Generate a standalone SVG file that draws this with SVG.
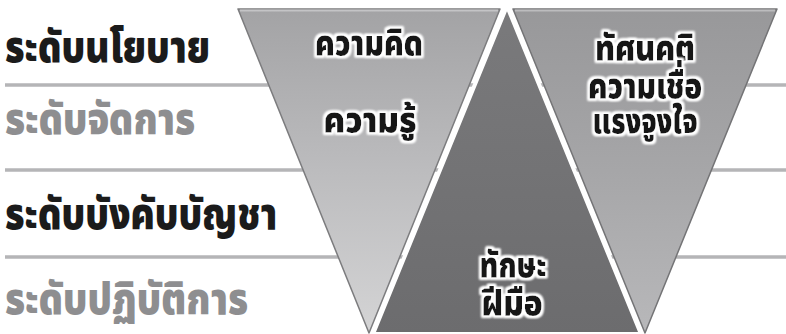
<svg xmlns="http://www.w3.org/2000/svg" width="786" height="334" viewBox="0 0 786 334">
<style>
.lbl{font-family:"Noto Sans Thai","Noto Sans","DejaVu Sans",sans-serif;font-weight:900;font-size:45px}
.dark{fill:#1b1b1b}
.gray{fill:#8e8e90}
.tt{font-family:"Noto Sans Thai","Noto Sans","DejaVu Sans",sans-serif;font-weight:900;font-size:36px;fill:#151515;text-anchor:middle}
.hl{stroke:#b5b5b7;stroke-width:3.5}
</style>
<defs>
<linearGradient id="gL" x1="0" y1="0" x2="0" y2="1">
<stop offset="0" stop-color="#a3a3a5"/><stop offset="0.5" stop-color="#bcbcbe"/><stop offset="1" stop-color="#d4d4d5"/>
</linearGradient>
<linearGradient id="gR" x1="0" y1="0" x2="0" y2="1">
<stop offset="0" stop-color="#98989a"/><stop offset="0.5" stop-color="#a6a6a8"/><stop offset="1" stop-color="#b8b8ba"/>
</linearGradient>
<linearGradient id="gM" x1="0" y1="0" x2="0" y2="1">
<stop offset="0" stop-color="#7a7a7c"/><stop offset="1" stop-color="#6c6c6e"/>
</linearGradient>
<filter id="glow" x="-20%" y="-50%" width="140%" height="200%">
<feMorphology in="SourceAlpha" operator="dilate" radius="1.5" result="d"/>
<feGaussianBlur in="d" stdDeviation="1.3" result="b"/>
<feFlood flood-color="#ffffff"/>
<feComposite in2="b" operator="in" result="g"/>
<feMerge><feMergeNode in="g"/><feMergeNode in="g"/><feMergeNode in="SourceGraphic"/></feMerge>
</filter>
</defs>
<rect width="786" height="334" fill="#ffffff"/>
<g id="connectors">
<line class="hl" x1="5" y1="85" x2="786" y2="85"/>
<line class="hl" x1="5" y1="170" x2="786" y2="170"/>
<line class="hl" x1="5" y1="257" x2="786" y2="257"/>
</g>
<g id="labels">
<text class="lbl dark" x="5" y="62" textLength="205" lengthAdjust="spacingAndGlyphs">ระดับนโยบาย</text>
<text class="lbl gray" x="5" y="134" textLength="190" lengthAdjust="spacingAndGlyphs">ระดับจัดการ</text>
<text class="lbl dark" x="5" y="229" textLength="272" lengthAdjust="spacingAndGlyphs">ระดับบังคับบัญชา</text>
<text class="lbl gray" x="5" y="314" textLength="243" lengthAdjust="spacingAndGlyphs">ระดับปฏิบัติการ</text>
</g>
<g id="knowledge">
<polygon points="238,9 500,9 369,333" fill="url(#gL)" stroke="#7c7c7e" stroke-width="1.5" stroke-linejoin="round"/>
<line x1="240" y1="10.5" x2="498" y2="10.5" stroke="#c4c4c6" stroke-width="2"/>
<text class="tt" x="369" y="55" filter="url(#glow)" textLength="108" lengthAdjust="spacingAndGlyphs">ความคิด</text>
<text class="tt" x="370" y="132" filter="url(#glow)" textLength="93" lengthAdjust="spacingAndGlyphs">ความรู้</text>
</g>
<g id="attitude">
<polygon points="513,9 777,9 645,333" fill="url(#gR)" stroke="#747476" stroke-width="1.5" stroke-linejoin="round"/>
<line x1="515" y1="10.5" x2="775" y2="10.5" stroke="#bcbcbe" stroke-width="2"/>
<text class="tt" x="645" y="60" filter="url(#glow)" textLength="100" lengthAdjust="spacingAndGlyphs">ทัศนคติ</text>
<text class="tt" x="645" y="98" filter="url(#glow)" textLength="114" lengthAdjust="spacingAndGlyphs">ความเชื่อ</text>
<text class="tt" x="645" y="133" filter="url(#glow)" textLength="105" lengthAdjust="spacingAndGlyphs">แรงจูงใจ</text>
</g>
<g id="skill">
<polygon points="507,6 373,334 641,334" fill="url(#gM)" stroke="#ffffff" stroke-width="4" stroke-linejoin="round"/>
<text class="tt" x="513" y="277" filter="url(#glow)" textLength="67" lengthAdjust="spacingAndGlyphs">ทักษะ</text>
<text class="tt" x="512" y="315" filter="url(#glow)" textLength="61" lengthAdjust="spacingAndGlyphs">ฝีมือ</text>
</g>
</svg>
